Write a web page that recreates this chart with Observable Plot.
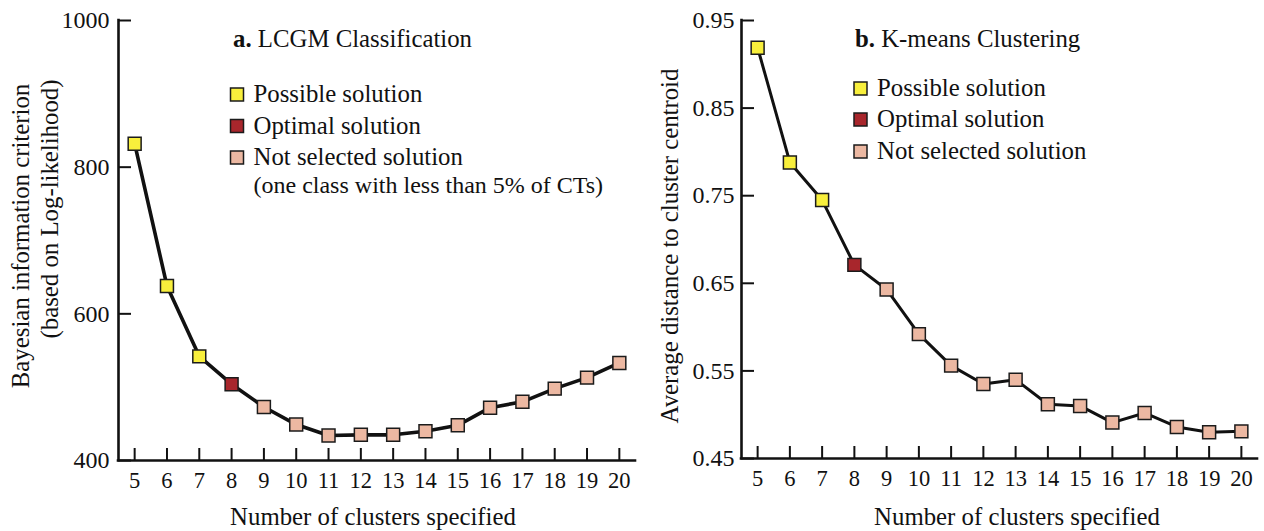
<!DOCTYPE html>
<html>
<head>
<meta charset="utf-8">
<script src="https://cdn.jsdelivr.net/npm/d3@7"></script>
<script src="https://cdn.jsdelivr.net/npm/@observablehq/plot@0.6"></script>
<style>
  html, body { margin: 0; padding: 0; background: #fff; }
  #wrap { position: relative; width: 1264px; height: 531px; overflow: hidden; font-family: "Liberation Serif", "Times New Roman", serif; }
  #wrap > svg { position: absolute; top: 0; }
  #overlay { left: 0; pointer-events: none; }
</style>
</head>
<body>
<div id="wrap"></div>
<script>
// ---------- data ----------
const clusters = [5, 6, 7, 8, 9, 10, 11, 12, 13, 14, 15, 16, 17, 18, 19, 20];
const bicValues = [832, 638, 542, 504, 473, 449, 434, 435, 435, 440, 448, 472, 480, 498, 513, 533];
const bicStatus = ["Possible solution", "Possible solution", "Possible solution", "Optimal solution",
  "Not selected solution", "Not selected solution", "Not selected solution", "Not selected solution",
  "Not selected solution", "Not selected solution", "Not selected solution", "Not selected solution",
  "Not selected solution", "Not selected solution", "Not selected solution", "Not selected solution"];
const kmValues = [0.919, 0.788, 0.745, 0.671, 0.643, 0.592, 0.556, 0.535, 0.540, 0.512, 0.510, 0.491, 0.502, 0.486, 0.480, 0.481];
const kmStatus = bicStatus.slice();
const statusNames = ["Possible solution", "Optimal solution", "Not selected solution"];
const statusColors = ["#f8ef3c", "#a8262c", "#ecb8a2"];
const bicTicks = [400, 600, 800, 1000];
const kmTicks = [0.45, 0.55, 0.65, 0.75, 0.85, 0.95];
const xDomain = [4.5, 20.5];
const bicDomain = [400, 1000];
const kmDomain = [0.45, 0.95];
const xTitle = "Number of clusters specified";
const bicTitle = ["Bayesian information criterion", "(based on Log-likelihood)"];
const kmTitle = "Average distance to cluster centroid";
const panelTitles = [["a.", " LCGM Classification"], ["b.", " K-means Clustering"]];
const bicLegendNote = "(one class with less than 5% of CTs)";

const bicData = clusters.map((c, i) => ({k: c, v: bicValues[i], s: bicStatus[i]}));
const kmData = clusters.map((c, i) => ({k: c, v: kmValues[i], s: kmStatus[i]}));

const font = '"Liberation Serif", "Times New Roman", serif';
const ink = "#111";
const fs = 24.8;

function panel(data, yDomain, yTicks, yFormat, opts) {
  return Plot.plot({
    width: opts.width,
    height: 531,
    marginLeft: opts.marginLeft,
    marginRight: opts.marginRight,
    marginTop: 20,
    marginBottom: opts.marginBottom,
    style: {fontFamily: font, background: "transparent", color: ink},
    x: {domain: xDomain, ticks: clusters},
    y: {domain: yDomain, ticks: yTicks},
    color: {domain: statusNames, range: statusColors},
    marks: [
      // axis lines
      Plot.ruleY([yDomain[0]], {stroke: ink, strokeWidth: 2.6, strokeLinecap: "square"}),
      Plot.ruleX([xDomain[0]], {stroke: ink, strokeWidth: 2.6, strokeLinecap: "square"}),
      // inward tick marks
      Plot.axisX({ticks: clusters, tickSize: 12, dy: -12, strokeWidth: 2, stroke: ink, tickFormat: () => "", label: null}),
      Plot.axisY({ticks: yTicks, tickSize: 13, dx: 13, strokeWidth: 2, stroke: ink, tickFormat: () => "", label: null}),
      // tick labels
      Plot.axisX({ticks: clusters, tickSize: 0, tickPadding: 12, fontSize: 22.5, fill: ink, label: null}),
      Plot.axisY({ticks: yTicks, tickSize: 0, tickPadding: opts.yPad, fontSize: 24, fill: ink, tickFormat: yFormat, label: null}),
      // series
      Plot.line(data, {x: "k", y: "v", stroke: ink, strokeWidth: opts.lineWidth}),
      Plot.dot(data, {x: "k", y: "v", fill: "s", symbol: "square", r: 7.3, stroke: "#1b1b1b", strokeWidth: 1.5})
    ]
  });
}

const wrap = document.getElementById("wrap");
const left = panel(bicData, bicDomain, bicTicks, d3.format("d"), {width: 640, marginLeft: 118, marginRight: 5, marginBottom: 71, yPad: 9, lineWidth: 3.6});
left.style.left = "0px";
wrap.appendChild(left);
const right = panel(kmData, kmDomain, kmTicks, d3.format(".2f"), {width: 624, marginLeft: 101, marginRight: 7, marginBottom: 73, yPad: 7, lineWidth: 3});
right.style.left = "640px";
wrap.appendChild(right);

// ---------- overlay: titles, axis titles, legends ----------
const ov = d3.select(wrap).append("svg").attr("id", "overlay")
  .attr("width", 1264).attr("height", 531)
  .attr("font-family", font).attr("fill", ink);

ov.append("text").attr("transform", "translate(29,236) rotate(-90)").attr("text-anchor", "middle").attr("font-size", fs).text(bicTitle[0]);
ov.append("text").attr("transform", "translate(58,209) rotate(-90)").attr("text-anchor", "middle").attr("font-size", fs).text(bicTitle[1]);
ov.append("text").attr("transform", "translate(678,246) rotate(-90)").attr("text-anchor", "middle").attr("font-size", fs).text(kmTitle);

ov.append("text").attr("x", 373).attr("y", 525).attr("text-anchor", "middle").attr("font-size", fs).text(xTitle);
ov.append("text").attr("x", 1017).attr("y", 525).attr("text-anchor", "middle").attr("font-size", fs).text(xTitle);

[[233, 47], [855, 47]].forEach(([x, y], i) => {
  const t = ov.append("text").attr("x", x).attr("y", y).attr("font-size", fs);
  t.append("tspan").attr("font-weight", "bold").text(panelTitles[i][0]);
  t.append("tspan").text(panelTitles[i][1]);
});

function legend(x0, yCenters, note) {
  statusNames.forEach((name, i) => {
    const cy = yCenters[i];
    ov.append("rect").attr("x", x0).attr("y", cy - 6.5).attr("width", 13).attr("height", 13)
      .attr("fill", statusColors[i]).attr("stroke", "#1b1b1b").attr("stroke-width", 1.5);
    ov.append("text").attr("x", x0 + 23).attr("y", cy + 7.5).attr("font-size", fs).text(name);
  });
  if (note) {
    ov.append("text").attr("x", x0 + 23).attr("y", yCenters[2] + 35).attr("font-size", 24).text(note);
  }
}
legend(230.5, [94.5, 126, 157.5], bicLegendNote);
legend(854, [88.5, 119.5, 151.5], null);
</script>
</body>
</html>
